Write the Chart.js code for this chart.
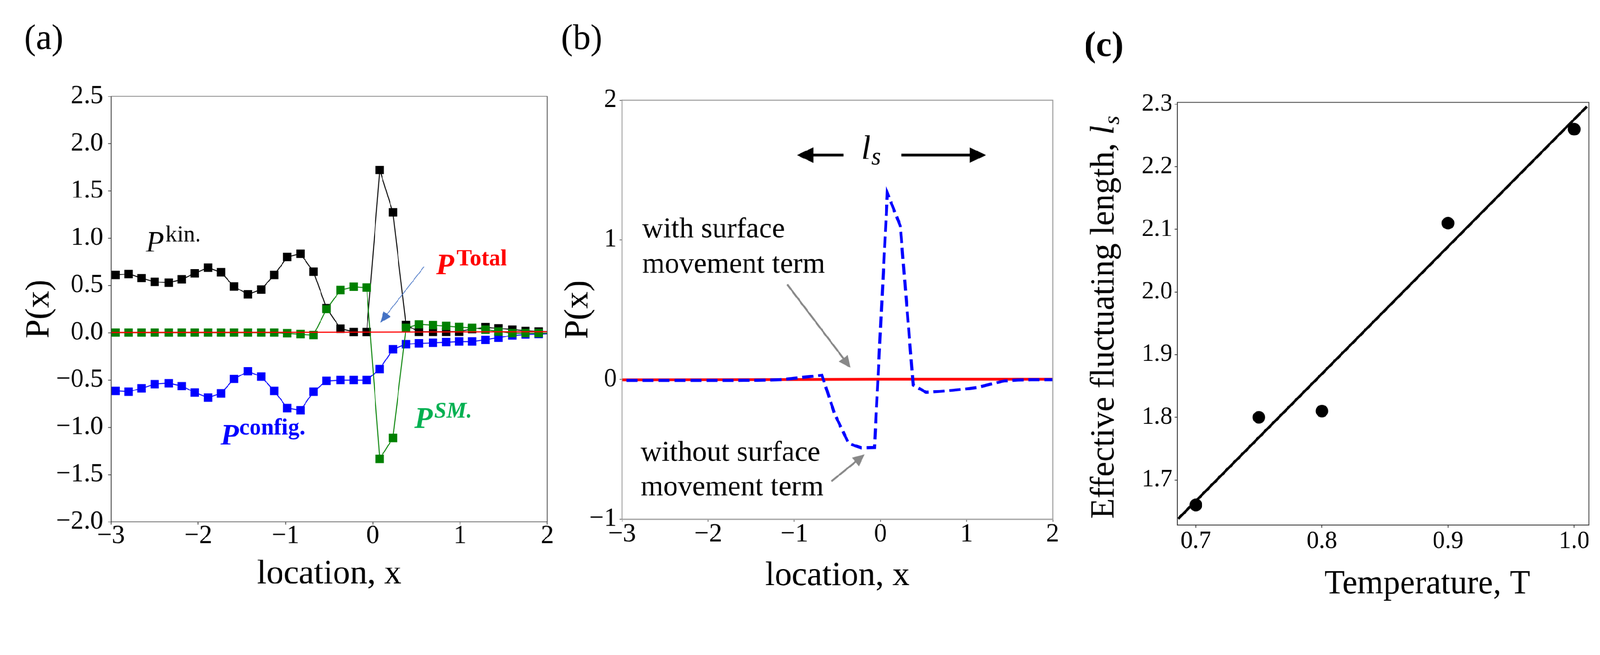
<!DOCTYPE html>
<html><head><meta charset="utf-8">
<script src="https://cdn.jsdelivr.net/npm/chart.js@4.4.1/dist/chart.umd.min.js"></script>
<style>
html,body{margin:0;padding:0;background:#fff;overflow:hidden}
#stage{position:absolute;left:0;top:0;width:4303px;height:1677px;transform-origin:0 0;background:#fff}
.panel{position:absolute;top:0;height:1677px}
</style></head><body>
<div id="stage">
<div class="panel" style="left:0;width:1500px"><canvas id="ca"></canvas></div>
<div class="panel" style="left:1500px;width:1400px"><canvas id="cb"></canvas></div>
<div class="panel" style="left:2900px;width:1403px"><canvas id="cc"></canvas></div>
</div>
<script>
// ---------- data ----------
const locX = [-2.95,-2.80,-2.65,-2.50,-2.34,-2.19,-2.04,-1.89,-1.74,-1.59,-1.43,-1.28,-1.13,-0.98,-0.83,-0.68,-0.53,-0.37,-0.22,-0.07,0.08,0.23,0.38,0.53,0.69,0.84,0.99,1.14,1.29,1.44,1.60,1.75,1.90,2.05];
const pKin = [0.611,0.620,0.578,0.537,0.529,0.563,0.627,0.688,0.638,0.487,0.404,0.456,0.611,0.800,0.836,0.644,0.260,0.042,0.008,0.008,1.720,1.273,0.080,0.010,0.010,0.010,0.012,0.038,0.058,0.045,0.032,0.019,0.013,0.010];
const pConfig = [-0.616,-0.624,-0.590,-0.544,-0.535,-0.565,-0.632,-0.687,-0.641,-0.489,-0.409,-0.464,-0.616,-0.797,-0.822,-0.624,-0.510,-0.502,-0.502,-0.502,-0.384,-0.177,-0.122,-0.113,-0.107,-0.100,-0.094,-0.094,-0.075,-0.053,-0.030,-0.019,-0.015,-0.010];
const pSM = [0,0,0,0,0,0,0,0,0,0,0,0,0,-0.007,-0.016,-0.026,0.249,0.451,0.485,0.476,-1.336,-1.113,0.051,0.089,0.079,0.070,0.060,0.051,0.032,0.013,-0.006,-0.006,-0.006,-0.005];
const totalX = [-3,-2,-1,0,1,2];
const pTotalA = [0.002,0.003,0.004,0.006,0.008,0.010];
const pNoSM = [-0.006,-0.006,-0.006,-0.006,-0.006,-0.006,-0.006,-0.006,-0.006,-0.005,-0.005,-0.003,0.000,0.010,0.020,0.031,-0.250,-0.458,-0.490,-0.487,1.335,1.100,-0.040,-0.092,-0.085,-0.077,-0.068,-0.055,-0.032,-0.010,-0.003,-0.001,-0.001,-0.001];
const pTotalB = [-0.002,-0.001,0.000,0.002,0.002,0.002];
const temperature = [0.7,0.75,0.8,0.9,1.0];
const lengthLs = [1.66,1.80,1.81,2.11,2.26];
const fitT = [0.686,1.010];
const fitL = [1.638,2.296];
const ticksAX = [-3,-2,-1,0,1,2];
const ticksAY = [-2.0,-1.5,-1.0,-0.5,0.0,0.5,1.0,1.5,2.0,2.5];
const ticksBX = [-3,-2,-1,0,1,2];
const ticksBY = [-1,0,1,2];
const ticksCX = [0.7,0.8,0.9,1.0];
const ticksCY = [1.7,1.8,1.9,2.0,2.1,2.2,2.3];

// ---------- fit the 4303x1677 stage into the window ----------
const K = Math.min(window.innerWidth / 4303, window.innerHeight / 1677);
document.getElementById('stage').style.transform = 'scale(' + K + ')';
const DPR = (window.devicePixelRatio || 1) * K;

// ---------- helpers ----------
const SERIF = "'Liberation Serif','Times New Roman',serif";
Chart.defaults.font.family = SERIF;
Chart.defaults.color = '#000';
const pts = (xs, ys) => xs.map((x, i) => ({x: x, y: ys[i]}));
const fmt = (v, d) => (v < -1e-9 ? '\u2212' : '') + Math.abs(v).toFixed(d);
const setTicks = arr => s => { s.ticks = arr.map(v => ({value: v})); };

function drawArrow(ctx, a, ox) {
  const x1 = a.x1 - ox, x2 = a.x2 - ox, y1 = a.y1, y2 = a.y2;
  const ang = Math.atan2(y2 - y1, x2 - x1);
  const c = Math.cos(ang), s = Math.sin(ang);
  const bx = x2 - a.head * c, by = y2 - a.head * s;
  ctx.strokeStyle = a.color; ctx.fillStyle = a.color; ctx.lineWidth = a.width;
  ctx.lineCap = 'butt';
  ctx.beginPath(); ctx.moveTo(x1, y1); ctx.lineTo(bx + 2 * c, by + 2 * s); ctx.stroke();
  ctx.beginPath();
  ctx.moveTo(x2, y2);
  ctx.lineTo(bx - s * a.headW / 2, by + c * a.headW / 2);
  ctx.lineTo(bx + s * a.headW / 2, by - c * a.headW / 2);
  ctx.closePath(); ctx.fill();
}

const notesPlugin = {
  id: 'notes',
  afterDraw(chart, args, opts) {
    const ctx = chart.ctx, ox = opts.ox || 0, ca = chart.chartArea;
    ctx.save();
    if (opts.frame) {
      ctx.strokeStyle = opts.frame.color; ctx.lineWidth = opts.frame.width;
      ctx.strokeRect(ca.left, ca.top, ca.right - ca.left, ca.bottom - ca.top);
    }
    (opts.arrows || []).forEach(a => drawArrow(ctx, a, ox));
    ctx.textBaseline = 'alphabetic';
    (opts.texts || []).forEach(t => {
      ctx.font = t.font; ctx.fillStyle = t.color || '#000'; ctx.textAlign = t.align || 'left';
      ctx.fillText(t.text, t.x - ox, t.y);
    });
    (opts.rotTexts || []).forEach(r => {
      ctx.save();
      ctx.translate(r.cx - ox, r.cy);
      ctx.rotate(-Math.PI / 2);
      ctx.textAlign = 'left'; ctx.textBaseline = 'alphabetic'; ctx.fillStyle = r.color || '#000';
      let total = 0;
      r.parts.forEach(p => { ctx.font = p.font; p.w = ctx.measureText(p.text).width; total += p.w + (p.gap || 0); });
      let x = -total / 2;
      r.parts.forEach(p => { ctx.font = p.font; ctx.fillText(p.text, x, r.base + (p.dy || 0)); x += p.w + (p.gap || 0); });
      ctx.restore();
    });
    ctx.restore();
  }
};

const baseOpts = {
  responsive: true, maintainAspectRatio: false, animation: false, devicePixelRatio: DPR,
  events: []
};

// ---------- panel (a) ----------
new Chart(document.getElementById('ca'), {
  type: 'scatter',
  data: { datasets: [
    { label: 'P Total', data: pts(totalX, pTotalA), showLine: true, borderColor: '#ff0000', borderWidth: 3, pointRadius: 0, clip: 0 },
    { label: 'P SM', data: pts(locX, pSM), showLine: true, borderColor: '#008000', backgroundColor: '#008000', borderWidth: 2.5, pointStyle: 'rect', pointRadius: 16, pointBorderWidth: 0, clip: 0 },
    { label: 'P config', data: pts(locX, pConfig), showLine: true, borderColor: '#0000ff', backgroundColor: '#0000ff', borderWidth: 2.5, pointStyle: 'rect', pointRadius: 16, pointBorderWidth: 0, clip: 0 },
    { label: 'P kin', data: pts(locX, pKin), showLine: true, borderColor: '#000000', backgroundColor: '#000000', borderWidth: 2.5, pointStyle: 'rect', pointRadius: 16, pointBorderWidth: 0, clip: 0 }
  ]},
  options: Object.assign({}, baseOpts, {
    layout: { padding: { left: 0, top: 259, right: 29, bottom: 0 } },
    plugins: {
      legend: { display: false }, tooltip: { enabled: false },
      notes: {
        ox: 0,
        frame: { color: '#444', width: 2 },
        arrows: [ { x1: 1140, y1: 717, x2: 1022, y2: 868, color: '#4472C4', width: 2, head: 30, headW: 24 } ],
        texts: [
          { text: '(a)', x: 65, y: 131, font: '95px ' + SERIF },
          { text: 'P', x: 392, y: 677, font: 'italic 80px ' + SERIF, color: '#000' },
          { text: 'kin.', x: 445, y: 649, font: '62px ' + SERIF, color: '#000' },
          { text: 'P', x: 1172, y: 738, font: 'bold italic 80px ' + SERIF, color: '#ff0000' },
          { text: 'Total', x: 1227, y: 713, font: 'bold 62px ' + SERIF, color: '#ff0000' },
          { text: 'P', x: 593, y: 1196, font: 'bold italic 80px ' + SERIF, color: '#0000ff' },
          { text: 'config.', x: 643, y: 1168, font: 'bold 62px ' + SERIF, color: '#0000ff' },
          { text: 'P', x: 1114, y: 1150, font: 'bold italic 80px ' + SERIF, color: '#00b050' },
          { text: 'SM.', x: 1167, y: 1123, font: 'bold italic 60px ' + SERIF, color: '#00b050' }
        ]
      }
    },
    scales: {
      x: { type: 'linear', min: -3, max: 2, afterBuildTicks: setTicks(ticksAX),
           afterFit: s => { s.height = 274; },
           ticks: { font: { size: 70, lineHeight: 1 }, color: '#000', padding: -4, callback: v => fmt(v, 0) },
           grid: { drawOnChartArea: false, tickLength: 8, color: '#444', lineWidth: 2 },
           border: { color: '#444', width: 2 },
           title: { display: true, text: 'location, x', color: '#000', font: { size: 92 }, padding: { top: 0, bottom: 78 } } },
      y: { type: 'linear', min: -2, max: 2.5, afterBuildTicks: setTicks(ticksAY),
           afterFit: s => { s.width = 298.5; },
           ticks: { font: { size: 70 }, color: '#000', padding: 13, callback: v => fmt(v, 1) },
           grid: { drawOnChartArea: false, tickLength: 8, color: '#444', lineWidth: 2 },
           border: { color: '#444', width: 2 },
           title: { display: true, text: 'P(x)', color: '#000', font: { size: 92 }, padding: { top: 51, bottom: 0 } } }
    }
  }),
  plugins: [notesPlugin]
});

// ---------- panel (b) ----------
new Chart(document.getElementById('cb'), {
  type: 'scatter',
  data: { datasets: [
    { label: 'without surface movement term', data: pts(locX, pNoSM), showLine: true, borderColor: '#0000ff', borderWidth: 8, borderDash: [30, 13], pointRadius: 0, clip: 0 },
    { label: 'with surface movement term', data: pts(totalX, pTotalB), showLine: true, borderColor: '#ff0000', borderWidth: 7, pointRadius: 0, clip: 0 }
  ]},
  options: Object.assign({}, baseOpts, {
    layout: { padding: { left: 0, top: 269.5, right: 69.5, bottom: 0 } },
    plugins: {
      legend: { display: false }, tooltip: { enabled: false },
      notes: {
        ox: 1500,
        frame: { color: '#999', width: 2.5 },
        arrows: [
          { x1: 2268, y1: 417, x2: 2143, y2: 417, color: '#000', width: 7, head: 44, headW: 42 },
          { x1: 2424, y1: 417, x2: 2651, y2: 417, color: '#000', width: 7, head: 44, headW: 42 },
          { x1: 2117, y1: 765, x2: 2287, y2: 989, color: '#888', width: 5, head: 32, headW: 30 },
          { x1: 2236, y1: 1294, x2: 2325, y2: 1222, color: '#888', width: 5, head: 32, headW: 30 }
        ],
        texts: [
          { text: '(b)', x: 1509, y: 131, font: '95px ' + SERIF },
          { text: 'l', x: 2316, y: 428, font: 'italic 90px ' + SERIF },
          { text: 's', x: 2343, y: 442, font: 'italic 66px ' + SERIF },
          { text: 'with surface', x: 1727, y: 639, font: '78px ' + SERIF },
          { text: 'movement term', x: 1727, y: 733, font: '78px ' + SERIF },
          { text: 'without surface', x: 1723, y: 1240, font: '78px ' + SERIF },
          { text: 'movement term', x: 1723, y: 1332, font: '78px ' + SERIF }
        ]
      }
    },
    scales: {
      x: { type: 'linear', min: -3, max: 2, afterBuildTicks: setTicks(ticksBX),
           afterFit: s => { s.height = 281; },
           ticks: { font: { size: 70, lineHeight: 1 }, color: '#000', padding: 0, callback: v => fmt(v, 0) },
           grid: { drawOnChartArea: false, tickLength: 7, color: '#666', lineWidth: 2 },
           border: { color: '#999', width: 2.5 },
           title: { display: true, text: 'location, x', color: '#000', font: { size: 92 }, padding: { top: 0, bottom: 72 } } },
      y: { type: 'linear', min: -1, max: 2, afterBuildTicks: setTicks(ticksBY),
           afterFit: s => { s.width = 173; },
           ticks: { font: { size: 70 }, color: '#000', padding: 7, callback: v => fmt(v, 0) },
           grid: { drawOnChartArea: false, tickLength: 7, color: '#666', lineWidth: 2 },
           border: { color: '#999', width: 2.5 },
           title: { display: true, text: 'P(x)', color: '#000', font: { size: 92 }, padding: { top: 1, bottom: 0 } } }
    }
  }),
  plugins: [notesPlugin]
});

// ---------- panel (c) ----------
new Chart(document.getElementById('cc'), {
  type: 'scatter',
  data: { datasets: [
    { label: 'l_s', data: pts(temperature, lengthLs), showLine: false, backgroundColor: '#000', borderWidth: 0, pointStyle: 'circle', pointRadius: 17, clip: 0 },
    { label: 'fit', data: pts(fitT, fitL), showLine: true, borderColor: '#000', borderWidth: 7, pointRadius: 0, clip: 0 }
  ]},
  options: Object.assign({}, baseOpts, {
    layout: { padding: { left: 0, top: 275, right: 30, bottom: 0 } },
    plugins: {
      legend: { display: false }, tooltip: { enabled: false },
      notes: {
        ox: 2900,
        frame: { color: '#333', width: 2 },
        texts: [
          { text: '(c)', x: 2916, y: 150, font: 'bold 95px ' + SERIF },
          { text: 'Temperature, T', x: 3838, y: 1596, font: '90px ' + SERIF, align: 'center' }
        ],
        rotTexts: [
          { cx: 2995, cy: 853, base: 0, parts: [
            { text: 'Effective fluctuating length, ', font: '90px ' + SERIF },
            { text: 'l', font: 'italic 90px ' + SERIF, gap: 2 },
            { text: 's', font: 'italic 62px ' + SERIF, dy: 14 }
          ] }
        ]
      }
    },
    scales: {
      x: { type: 'linear', min: 0.6853, max: 1.0118, afterBuildTicks: setTicks(ticksCX),
           afterFit: s => { s.height = 265; },
           ticks: { font: { size: 66, lineHeight: 1 }, color: '#000', padding: 5, callback: v => v.toFixed(1) },
           grid: { drawOnChartArea: false, tickLength: 7, color: '#333', lineWidth: 2 },
           border: { color: '#333', width: 2 },
           title: { display: false } },
      y: { type: 'linear', min: 1.628, max: 2.303, afterBuildTicks: setTicks(ticksCY),
           afterFit: s => { s.width = 266; },
           ticks: { font: { size: 66 }, color: '#000', padding: 6, callback: v => v.toFixed(1) },
           grid: { drawOnChartArea: false, tickLength: 7, color: '#333', lineWidth: 2 },
           border: { color: '#333', width: 2 },
           title: { display: false } }
    }
  }),
  plugins: [notesPlugin]
});
</script>
</body></html>
